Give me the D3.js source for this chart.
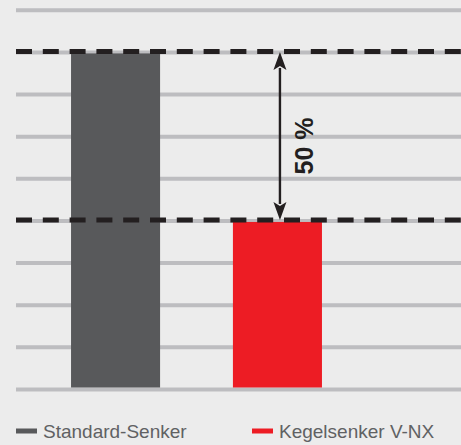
<!DOCTYPE html>
<html>
<head>
<meta charset="utf-8">
<script src="https://cdn.jsdelivr.net/npm/d3@7"></script>
<style>
  html, body { margin: 0; padding: 0; background: #ececec; }
  svg { display: block; }
</style>
</head>
<body>
<div id="chart"></div>
<script>
// data
var categories = ['Standard-Senker', 'Kegelsenker V-NX'];
var values = [8, 4];
var colors = ['#58595b', '#ed1c24'];
var gridTicks = [0, 1, 2, 3, 4, 5, 6, 7, 8, 9];

var W = 461, H = 445;

var svg = d3.select('#chart').append('svg')
  .attr('width', W)
  .attr('height', H);

svg.append('rect')
  .attr('width', W).attr('height', H)
  .attr('fill', '#ececec');

var x = d3.scaleBand()
  .domain(categories)
  .range([16, 377])
  .paddingInner(0.45)
  .paddingOuter(0.34);

var y = d3.scaleLinear()
  .domain([0, 9])
  .range([389.5, 10.3]);

// grid lines
svg.append('g').selectAll('line')
  .data(gridTicks)
  .enter()
  .append('line')
  .attr('x1', 16).attr('x2', W)
  .attr('y1', function(d){ return y(d); })
  .attr('y2', function(d){ return y(d); })
  .attr('stroke', '#bdbdc0')
  .attr('stroke-width', 4);

// bars
svg.append('g').selectAll('rect')
  .data(values)
  .enter()
  .append('rect')
  .attr('x', function(d, i){ return x(categories[i]); })
  .attr('width', x.bandwidth())
  .attr('y', function(d){ return y(d) + 1; })
  .attr('height', function(d){ return y(0) - y(d) - 3; })
  .attr('fill', function(d, i){ return colors[i]; });

// dashed reference lines at bar tops
svg.append('g').selectAll('line')
  .data(values)
  .enter()
  .append('line')
  .attr('x1', 16).attr('x2', W)
  .attr('y1', function(d){ return y(d) - 1; })
  .attr('y2', function(d){ return y(d) - 1; })
  .attr('stroke', '#231f20')
  .attr('stroke-width', 5)
  .attr('stroke-dasharray', '16,10.8');

// double arrow
var ax = x(categories[1]) + x.bandwidth() / 2 + 2.5;
var yTop = y(values[0]) - 0.5, yBot = y(values[1]) - 1;
var headL = 18, headW = 6.5;

svg.append('line')
  .attr('x1', ax).attr('x2', ax)
  .attr('y1', yTop + headL - 2).attr('y2', yBot - headL + 2)
  .attr('stroke', '#231f20')
  .attr('stroke-width', 2.4);

svg.append('path')
  .attr('d', 'M' + ax + ',' + yTop + 'L' + (ax - headW) + ',' + (yTop + headL) +
    'L' + ax + ',' + (yTop + headL - 4) + 'L' + (ax + headW) + ',' + (yTop + headL) + 'Z')
  .attr('fill', '#231f20');

svg.append('path')
  .attr('d', 'M' + ax + ',' + yBot + 'L' + (ax - headW) + ',' + (yBot - headL) +
    'L' + ax + ',' + (yBot - headL + 4) + 'L' + (ax + headW) + ',' + (yBot - headL) + 'Z')
  .attr('fill', '#231f20');

var pct = Math.round((1 - values[1] / values[0]) * 100);
svg.append('text')
  .attr('transform', 'translate(' + (ax + 33) + ',' + ((yTop + yBot) / 2 + 10) + ') rotate(-90)')
  .attr('text-anchor', 'middle')
  .attr('font-family', 'Liberation Sans, Arial, sans-serif')
  .attr('font-weight', 'bold')
  .attr('font-size', 25)
  .attr('fill', '#231f20')
  .text(pct + ' %');

// legend
var legendX = [16, 252];
var legend = svg.append('g').selectAll('g')
  .data(categories)
  .enter()
  .append('g')
  .attr('transform', function(d, i){ return 'translate(' + legendX[i] + ',431)'; });

legend.append('rect')
  .attr('x', 0).attr('y', -2.5)
  .attr('width', 21).attr('height', 5)
  .attr('fill', function(d, i){ return colors[i]; });

legend.append('text')
  .attr('x', 27).attr('y', 6.5)
  .attr('font-family', 'Liberation Sans, Arial, sans-serif')
  .attr('font-size', 19)
  .attr('fill', '#606163')
  .text(function(d){ return d; });
</script>
</body>
</html>
